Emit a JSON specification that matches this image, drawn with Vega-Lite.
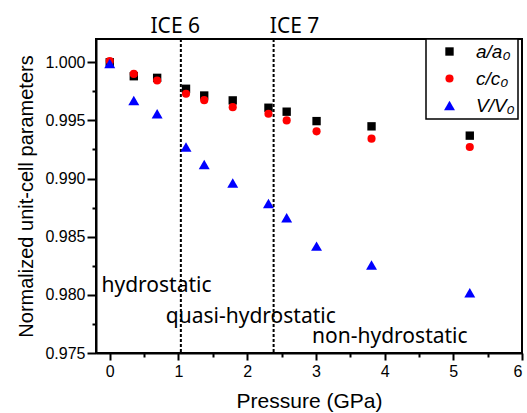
{
  "$schema": "https://vega.github.io/schema/vega-lite/v6.json",
  "width": 426,
  "height": 314,
  "autosize": {"type": "none"},
  "padding": {"left": 96, "top": 39, "right": 5, "bottom": 60},
  "background": "white",
  "config": {
    "view": {"stroke": "black", "strokeWidth": 2},
    "axis": {"domainColor": "black", "domainWidth": 2, "tickColor": "black", "tickWidth": 2, "labelColor": "black", "titleColor": "black", "labelFont": "Liberation Sans", "titleFont": "Liberation Sans", "grid": false},
    "legend": {"strokeWidth": 1.5}
  },
  "datasets": {
    "lines": [{"P": 1.035}, {"P": 2.385}],
    "pts": [
      {"P": 0, "v": 1.0000, "s": "a/a₀"},
      {"P": 0.35, "v": 0.9988, "s": "a/a₀"},
      {"P": 0.69, "v": 0.99866, "s": "a/a₀"},
      {"P": 1.11, "v": 0.99772, "s": "a/a₀"},
      {"P": 1.375, "v": 0.99714, "s": "a/a₀"},
      {"P": 1.79, "v": 0.99672, "s": "a/a₀"},
      {"P": 2.31, "v": 0.99609, "s": "a/a₀"},
      {"P": 2.575, "v": 0.99575, "s": "a/a₀"},
      {"P": 3.01, "v": 0.99494, "s": "a/a₀"},
      {"P": 3.81, "v": 0.99449, "s": "a/a₀"},
      {"P": 5.24, "v": 0.99369, "s": "a/a₀"},
      {"P": 0, "v": 1.0001, "s": "c/c₀"},
      {"P": 0.35, "v": 0.9990, "s": "c/c₀"},
      {"P": 0.69, "v": 0.99843, "s": "c/c₀"},
      {"P": 1.11, "v": 0.99729, "s": "c/c₀"},
      {"P": 1.375, "v": 0.99674, "s": "c/c₀"},
      {"P": 1.79, "v": 0.99614, "s": "c/c₀"},
      {"P": 2.31, "v": 0.99557, "s": "c/c₀"},
      {"P": 2.575, "v": 0.995, "s": "c/c₀"},
      {"P": 3.01, "v": 0.99406, "s": "c/c₀"},
      {"P": 3.81, "v": 0.99343, "s": "c/c₀"},
      {"P": 5.24, "v": 0.99271, "s": "c/c₀"},
      {"P": 0, "v": 0.9999, "s": "V/V₀"},
      {"P": 0.35, "v": 0.99672, "s": "V/V₀"},
      {"P": 0.69, "v": 0.99557, "s": "V/V₀"},
      {"P": 1.11, "v": 0.99271, "s": "V/V₀"},
      {"P": 1.375, "v": 0.9912, "s": "V/V₀"},
      {"P": 1.79, "v": 0.98962, "s": "V/V₀"},
      {"P": 2.31, "v": 0.98786, "s": "V/V₀"},
      {"P": 2.575, "v": 0.98662, "s": "V/V₀"},
      {"P": 3.01, "v": 0.98419, "s": "V/V₀"},
      {"P": 3.81, "v": 0.98256, "s": "V/V₀"},
      {"P": 5.24, "v": 0.98019, "s": "V/V₀"}
    ],
    "notes": [
      {"P": 0.593, "v": 1.00249, "label": "ICE 6"},
      {"P": 2.33, "v": 1.00249, "label": "ICE 7"},
      {"P": -0.12, "v": 0.98027, "label": "hydrostatic"},
      {"P": 0.816, "v": 0.97762, "label": "quasi-hydrostatic"},
      {"P": 2.945, "v": 0.97585, "label": "non-hydrostatic"}
    ]
  },
  "layer": [
    {
      "data": {"name": "lines"},
      "mark": {"type": "rule", "strokeDash": [3, 2], "strokeWidth": 2, "color": "black"},
      "encoding": {
        "x": {"field": "P", "type": "quantitative", "scale": {"domain": [-0.2, 6], "nice": false, "zero": false},
          "axis": {"orient": "bottom", "values": [0, 1, 2, 3, 4, 5, 6], "tickSize": 7, "labelFontSize": 16, "labelPadding": 3, "title": "Pressure (GPa)", "titleFontSize": 21, "titleFontWeight": "normal", "titlePadding": 11}}
      }
    },
    {
      "data": {"name": "pts"},
      "mark": {"type": "point", "filled": true, "opacity": 1},
      "encoding": {
        "x": {"field": "P", "type": "quantitative", "axis": null},
        "y": {"field": "v", "type": "quantitative", "scale": {"domain": [0.975, 1.002], "nice": false, "zero": false},
          "axis": {"orient": "left", "values": [0.975, 0.98, 0.985, 0.99, 0.995, 1.0], "format": ".3f", "tickSize": 9, "labelFontSize": 16, "labelPadding": 2, "title": "Normalized unit-cell parameters", "titleFontSize": 20, "titleFontWeight": "normal", "titlePadding": 8}},
        "color": {"field": "s", "type": "nominal", "scale": {"domain": ["a/a₀", "c/c₀", "V/V₀"], "range": ["black", "red", "blue"]},
          "legend": {"orient": "none", "legendX": 330, "legendY": 0, "title": null, "strokeColor": "black", "fillColor": "white", "padding": 3, "symbolOffset": 11, "labelOffset": 17, "labelFontSize": 19, "labelFont": "Liberation Sans", "labelFontStyle": "italic", "labelColor": "black", "rowPadding": 7}},
        "shape": {"field": "s", "type": "nominal", "scale": {"domain": ["a/a₀", "c/c₀", "V/V₀"], "range": ["square", "circle", "triangle-up"]}},
        "size": {"field": "s", "type": "nominal", "scale": {"type": "ordinal", "domain": ["a/a₀", "c/c₀", "V/V₀"], "range": [70, 66, 120]}}
      }
    },
    {
      "data": {"name": "notes"},
      "mark": {"type": "text", "align": "left", "baseline": "alphabetic", "font": "Noto Sans", "fontSize": 21, "color": "black"},
      "encoding": {
        "x": {"field": "P", "type": "quantitative",
          "axis": {"orient": "bottom", "values": [0.5, 1.5, 2.5, 3.5, 4.5, 5.5], "labels": false, "domain": false, "tickSize": 4, "title": null}},
        "y": {"field": "v", "type": "quantitative",
          "axis": {"orient": "left", "values": [0.9775, 0.9825, 0.9875, 0.9925, 0.9975], "labels": false, "domain": false, "tickSize": 4, "title": null}},
        "text": {"field": "label"}
      }
    }
  ],
  "resolve": {"axis": {"x": "independent", "y": "independent"}}
}
